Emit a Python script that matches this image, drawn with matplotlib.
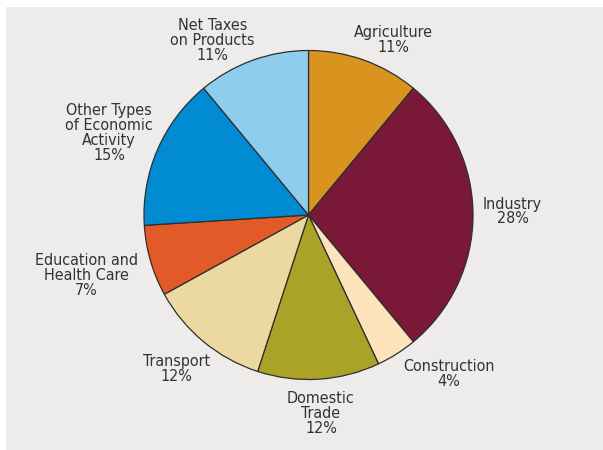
import numpy as np
import matplotlib
matplotlib.use("Agg")
import matplotlib.pyplot as plt
from matplotlib.patches import Rectangle

# GDP structure by sector, percent
sectors = [
    "Agriculture",
    "Industry",
    "Construction",
    "Domestic\nTrade",
    "Transport",
    "Education and\nHealth Care",
    "Other Types\nof Economic\nActivity",
    "Net Taxes\non Products",
]
shares = [11, 28, 4, 12, 12, 7, 15, 11]
colors = [
    "#d9931f", "#7a1838", "#fde3bb", "#aba327",
    "#ebd9a1", "#e25a27", "#008bd3", "#8ecdee",
]

# label placement: radial distance (in radii) and angle nudge (degrees)
label_dist = [1.18, 1.24, 1.29, 1.21, 1.23, 1.40, 1.31, 1.21]
label_nudge = [-6, 1, 9, 0, -1, -1, 1, 9]

W, H, DPI = 603, 450, 100
cx, cy, R = 308.5, 450 - 215, 164.5

fig = plt.figure(figsize=(W / DPI, H / DPI), dpi=DPI, facecolor="white")
fig.add_artist(Rectangle((6 / W, 0), 1, (H - 7) / H, transform=fig.transFigure,
                         facecolor="#edecea", edgecolor="none", zorder=-5))

ax = fig.add_axes([0, 0, 1, 1], zorder=1)
ax.set_facecolor("none")

wedges, _ = ax.pie(shares, colors=colors, startangle=90, counterclock=False,
                   radius=1.0, center=(0, 0), frame=True,
                   wedgeprops=dict(edgecolor="#2e2e2e", linewidth=0.9))
ax.set_xlim(-cx / R, (W - cx) / R)
ax.set_ylim(-cy / R, (H - cy) / R)
ax.set_aspect("auto")
ax.axis("off")

for w, name, pct, d, nudge in zip(wedges, sectors, shares, label_dist, label_nudge):
    mid = np.deg2rad((w.theta1 + w.theta2) / 2 + nudge)
    ax.text(d * np.cos(mid), d * np.sin(mid), f"{name}\n{pct}%",
            ha="center", va="center", fontsize=11.5, color="#333333",
            family="DejaVu Sans", linespacing=0.98, stretch="condensed")

fig.savefig("out.png", dpi=DPI)
